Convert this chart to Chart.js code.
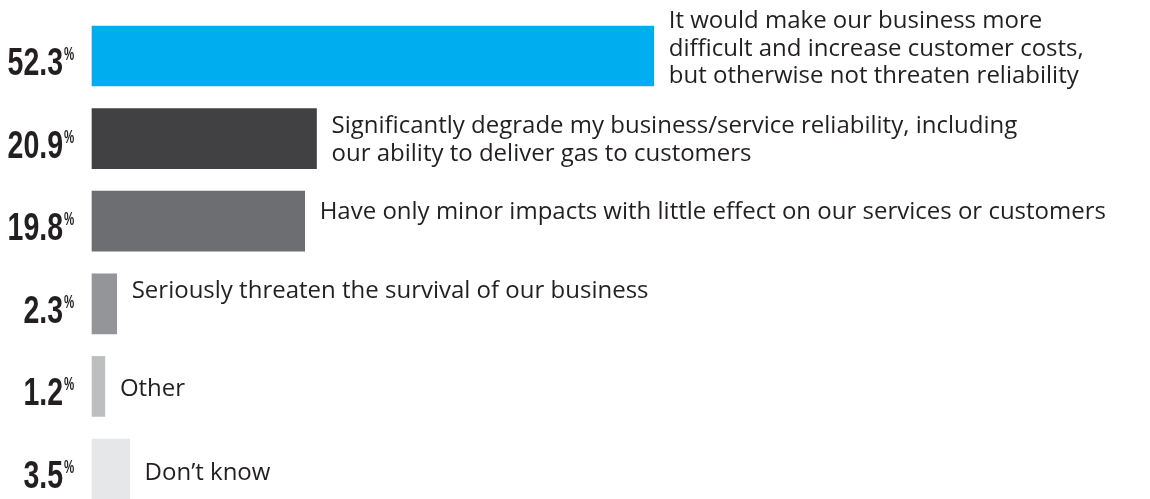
<!DOCTYPE html>
<html><head><meta charset="utf-8">
<script src="https://cdn.jsdelivr.net/npm/chart.js@4"></script>
<style>html,body{margin:0;padding:0;background:#fff;overflow:hidden}</style>
</head><body>
<canvas id="c" width="1150" height="499"></canvas>
<script>
const categories = [
  ["It would make our business more", "difficult and increase customer costs,", "but otherwise not threaten reliability"],
  ["Significantly degrade my business/service reliability, including", "our ability to deliver gas to customers"],
  ["Have only minor impacts with little effect on our services or customers"],
  ["Seriously threaten the survival of our business"],
  ["Other"],
  ["Don\u2019t know"]
];
const shares = [52.3, 20.9, 19.8, 2.3, 1.2, 3.5];
const barColors = ["#00AEEF", "#414042", "#6D6E71", "#939598", "#BCBEC0", "#E6E7E8"];

const barText = {
  id: 'barText',
  afterDatasetsDraw(chart, args, opts) {
    const ctx = chart.ctx;
    const meta = chart.getDatasetMeta(0);
    const left = chart.chartArea.left;
    meta.data.forEach((bar, i) => {
      const yc = bar.y;
      ctx.save();
      ctx.fillStyle = '#231F20';
      ctx.textAlign = 'left';
      ctx.textBaseline = 'alphabetic';
      // value number (condensed)
      const sx = opts.condense;
      ctx.font = "bold 38px 'Liberation Sans', Arial, sans-serif";
      const txt = shares[i].toFixed(1);
      const w = ctx.measureText(txt).width * sx;
      const numRight = left - 29;
      ctx.save();
      ctx.translate(numRight - w, yc + 19);
      ctx.scale(sx, 1);
      ctx.fillText(txt, 0, 0);
      ctx.restore();
      // percent sign
      ctx.font = "bold 18px 'Liberation Sans', Arial, sans-serif";
      ctx.save();
      ctx.translate(numRight + 1, yc + 4);
      ctx.scale(sx * 0.85, 1);
      ctx.fillText('%', 0, 0);
      ctx.restore();
      // category text
      const lines = categories[i];
      const x0 = bar.x + 15;
      ctx.font = opts.font;
      const lh = opts.lineHeight;
      const dy = opts.dy[i] || 0;
      lines.forEach((ln, k) => {
        const cy = yc + dy + (k - (lines.length - 1) / 2) * lh;
        ctx.fillText(ln, x0, cy + opts.capHalf);
      });
      ctx.restore();
    });
  }
};

new Chart(document.getElementById('c'), {
  type: 'bar',
  data: {
    labels: categories.map(l => l.join(' ')),
    datasets: [{
      data: shares,
      backgroundColor: barColors,
      borderWidth: 0,
      barThickness: 60,
      clip: false
    }]
  },
  options: {
    indexAxis: 'y',
    responsive: false,
    animation: false,
    devicePixelRatio: 1,
    layout: { padding: { left: 92, right: 0, top: 56, bottom: 30 } },
    scales: {
      x: { min: 0, max: 98.5, display: false },
      y: { display: false, offset: false }
    },
    plugins: {
      legend: { display: false },
      tooltip: { enabled: false },
      barText: {
        condense: 0.75,
        font: "24px 'Open Sans', sans-serif",
        lineHeight: 27.5,
        capHalf: 8.5,
        dy: [-9, 0, -11, -14, 1, 2]
      }
    }
  },
  plugins: [barText]
});
</script>
</body></html>
